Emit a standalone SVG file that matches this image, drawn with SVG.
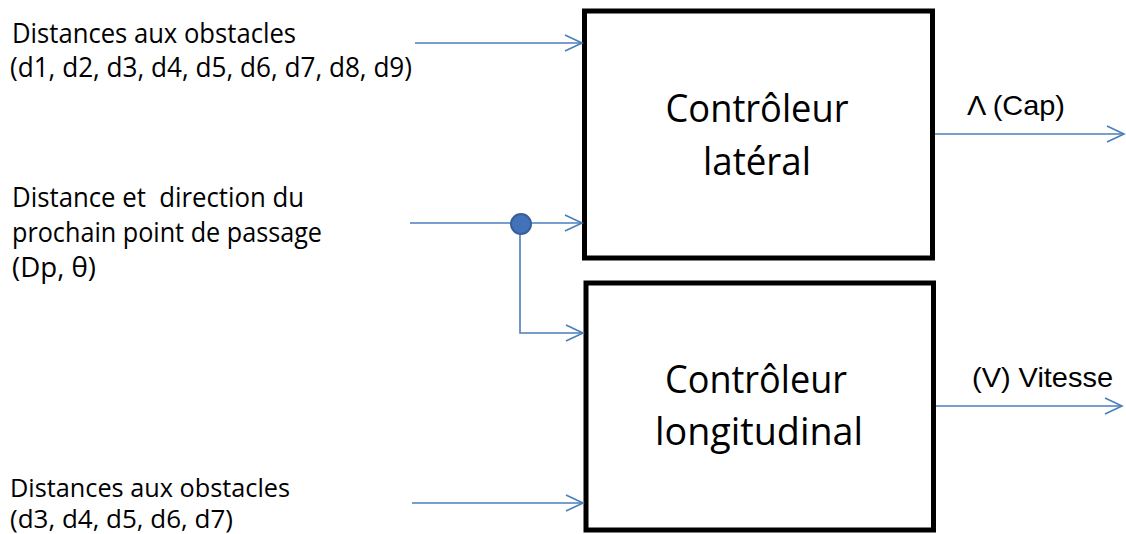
<svg xmlns="http://www.w3.org/2000/svg" width="1126" height="534" viewBox="0 0 1126 534">
  <style>
    .box { fill: #ffffff; stroke: #000000; stroke-width: 5; }
    .wire { fill: none; stroke: #4a7ebb; stroke-width: 1.6; }
    .lbl { font-family: "Open Sans", "Liberation Sans", sans-serif; font-size: 27px; fill: #000000; white-space: pre; }
    .lbl-sm { font-size: 25px; }
    .title { font-family: "Open Sans", "Liberation Sans", sans-serif; font-size: 39px; fill: #000000; text-anchor: middle; }
    .out { font-family: "Liberation Sans", Arial, sans-serif; font-size: 28px; fill: #000000; }
  </style>
  <defs>
    <marker id="open-arrow" markerUnits="userSpaceOnUse" markerWidth="20" markerHeight="20" viewBox="-18 -10 20 20" refX="0" refY="0" orient="auto">
      <path d="M -17 -8 L 0 0 L -17 8" fill="none" stroke="#4a7ebb" stroke-width="1.6"/>
    </marker>
  </defs>

  <rect width="1126" height="534" fill="#ffffff"/>

  <!-- input labels -->
  <g id="in-obstacles-all">
    <text class="lbl" x="12" y="43" textLength="284" lengthAdjust="spacingAndGlyphs">Distances aux obstacles</text>
    <text class="lbl" x="10" y="77" textLength="402" lengthAdjust="spacingAndGlyphs">(d1, d2, d3, d4, d5, d6, d7, d8, d9)</text>
  </g>
  <g id="in-waypoint">
    <text class="lbl" x="12" y="207" textLength="292" lengthAdjust="spacingAndGlyphs" xml:space="preserve">Distance et  direction du</text>
    <text class="lbl" x="12" y="242" textLength="310" lengthAdjust="spacingAndGlyphs">prochain point de passage</text>
    <text class="lbl" x="12" y="277" textLength="84" lengthAdjust="spacingAndGlyphs">(Dp, θ)</text>
  </g>
  <g id="in-obstacles-front">
    <text class="lbl lbl-sm" x="10" y="497" textLength="280" lengthAdjust="spacingAndGlyphs">Distances aux obstacles</text>
    <text class="lbl lbl-sm" x="10" y="528" textLength="223" lengthAdjust="spacingAndGlyphs">(d3, d4, d5, d6, d7)</text>
  </g>

  <!-- controller blocks -->
  <g id="lateral-controller">
    <rect class="box" x="584.5" y="11" width="348" height="247"/>
    <text class="title" x="757" y="122" textLength="183" lengthAdjust="spacingAndGlyphs">Contrôleur</text>
    <text class="title" x="757" y="175" textLength="108" lengthAdjust="spacingAndGlyphs">latéral</text>
  </g>
  <g id="longitudinal-controller">
    <rect class="box" x="586" y="283" width="347.5" height="247"/>
    <text class="title" x="756" y="393" textLength="182" lengthAdjust="spacingAndGlyphs">Contrôleur</text>
    <text class="title" x="759" y="445" textLength="208" lengthAdjust="spacingAndGlyphs">longitudinal</text>
  </g>

  <!-- output labels -->
  <g id="out-heading">
    <text class="out" x="967" y="115" textLength="98" lengthAdjust="spacingAndGlyphs">Λ (Cap)</text>
  </g>
  <g id="out-speed">
    <text class="out" x="972" y="387" textLength="141" lengthAdjust="spacingAndGlyphs">(V) Vitesse</text>
  </g>

  <!-- connectors -->
  <g id="connectors">
    <line class="wire" x1="415" y1="43" x2="582" y2="43" marker-end="url(#open-arrow)"/>
    <line class="wire" x1="410" y1="223" x2="582" y2="223" marker-end="url(#open-arrow)"/>
    <polyline class="wire" points="520,223 520,333 583,333" marker-end="url(#open-arrow)"/>
    <line class="wire" x1="412" y1="503" x2="583" y2="503" marker-end="url(#open-arrow)"/>
    <line class="wire" x1="935" y1="134" x2="1124" y2="134" marker-end="url(#open-arrow)"/>
    <line class="wire" x1="936" y1="406" x2="1122" y2="406" marker-end="url(#open-arrow)"/>
    <circle cx="521" cy="224" r="10" fill="#4472b8" stroke="#36609c" stroke-width="2"/>
  </g>
</svg>
